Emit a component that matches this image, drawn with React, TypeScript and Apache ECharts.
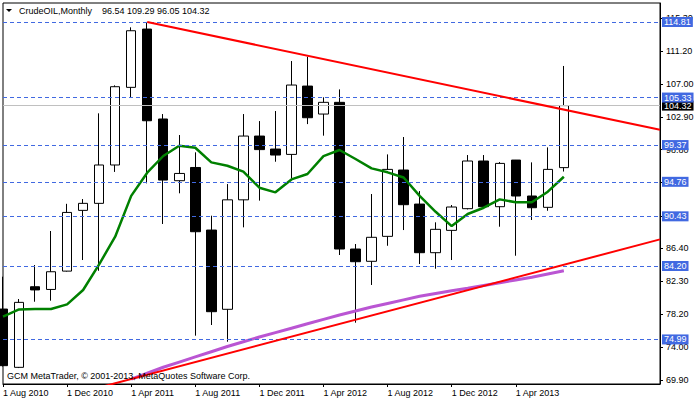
import React, { useEffect, useRef } from "react";
import * as echarts from "echarts";

// ---- data (monthly CrudeOIL, Aug 2010 – Jul 2013) ----
const months = [
  "Aug 2010", "Sep 2010", "Oct 2010", "Nov 2010", "Dec 2010", "Jan 2011",
  "Feb 2011", "Mar 2011", "Apr 2011", "May 2011", "Jun 2011", "Jul 2011",
  "Aug 2011", "Sep 2011", "Oct 2011", "Nov 2011", "Dec 2011", "Jan 2012",
  "Feb 2012", "Mar 2012", "Apr 2012", "May 2012", "Jun 2012", "Jul 2012",
  "Aug 2012", "Sep 2012", "Oct 2012", "Nov 2012", "Dec 2012", "Jan 2013",
  "Feb 2013", "Mar 2013", "Apr 2013", "May 2013", "Jun 2013", "Jul 2013",
];
// empty slots to the right of the last bar (chart shift area)
const futureSlots = ["Aug 2013", "Sep 2013", "Oct 2013", "Nov 2013", "Dec 2013", "Jan 2014"];

const opens = [
  78.8, 71.49, 81.6, 81.26, 83.56, 91.18, 92.06, 96.87, 106.61, 113.92, 102.64, 94.9,
  96.56, 88.71, 78.77, 92.5, 100.5, 98.87, 98.2, 106.77, 103.26, 104.73, 86.33, 84.79,
  87.92, 96.24, 91.97, 85.87, 88.67, 91.39, 97.37, 91.64, 97.49, 92.98, 91.56, 96.54,
];
const highs = [
  82.86, 80.06, 84.32, 88.59, 92.0, 92.6, 103.35, 106.86, 114.14, 114.81, 103.26, 100.63,
  98.46, 90.51, 94.48, 103.26, 102.38, 103.64, 109.91, 110.45, 105.36, 106.35, 86.96, 93.23,
  98.2, 100.38, 93.6, 89.68, 91.85, 98.12, 98.12, 97.24, 97.5, 97.2, 99.08, 109.29,
];
const lows = [
  71.6, 71.4, 79.72, 79.85, 83.5, 84.95, 83.6, 96.0, 105.27, 94.57, 89.47, 93.32,
  75.46, 76.8, 74.7, 89.05, 92.4, 97.28, 95.2, 102.0, 100.55, 85.58, 77.09, 81.82,
  86.74, 88.71, 84.45, 83.86, 84.95, 91.3, 91.5, 89.13, 85.49, 89.97, 91.13, 96.05,
];
const closes = [
  71.7, 79.64, 81.2, 83.48, 90.92, 92.06, 96.87, 106.69, 113.71, 102.42, 94.98, 95.81,
  88.5, 78.47, 92.5, 100.5, 98.8, 98.12, 106.9, 102.8, 104.73, 86.33, 84.74, 87.8,
  96.32, 91.89, 85.87, 88.8, 91.6, 97.37, 91.64, 97.07, 92.98, 91.51, 96.32, 104.32,
];
// green moving average
const maFast = [
  77.84, 78.75, 78.8, 78.8, 79.39, 81.19, 84.41, 87.88, 93.0, 95.9, 98.0, 99.28,
  99.03, 97.2, 96.78, 96.03, 94.02, 93.44, 95.06, 95.74, 97.99, 98.75, 97.62, 96.45,
  95.95, 95.3, 93.0, 91.0, 89.21, 90.72, 91.51, 92.56, 92.19, 92.19, 93.52, 95.4,
];
// purple moving average
const maSlow = [
  null, null, null, null, null, null, null, null, 70.0, 70.75, 71.5, 72.15,
  72.8, 73.45, 74.1, 74.7, 75.3, 75.85, 76.4, 76.95, 77.5, 78.05, 78.55, 79.05,
  79.5, 79.95, 80.4, 80.75, 81.1, 81.4, 81.75, 82.1, 82.45, 82.8, 83.2, 83.6,
];
// trend lines: [bar index, price]
const upperTrend = [[9, 114.81], [41, 101.28]];
const lowerTrend = [[0, 65.78], [41, 87.54]];
// horizontal levels
const levels = [114.81, 105.33, 99.37, 94.76, 90.43, 84.2, 74.99];
const lastPrice = 104.32;
// price scale: tick marks and the labels that are not fully covered by level tags
const yTickMarks = [69.9, 74.0, 78.2, 82.3, 86.4, 90.5, 94.7, 98.8, 102.9, 107.0, 111.2, 115.3];
const yTickLabels = [69.9, 74.0, 78.2, 82.3, 86.4, 98.8, 102.9, 107.0, 111.2, 115.3];

const headerName = "CrudeOIL,Monthly";
const headerOHLC = [96.54, 109.29, 96.05, 104.32];
const credit = "GCM MetaTrader, \u00a9 2001-2013, MetaQuotes Software Corp.";

const FONT = "'Liberation Sans', Arial, sans-serif";
const LEVEL_BLUE = "#4169E1";

export default function App() {
  const ref = useRef<HTMLDivElement>(null);

  useEffect(() => {
    if (!ref.current) return;
    const chart = echarts.init(ref.current, null, { renderer: "svg" });
    const cats = [...months, ...futureSlots];
    const candles = months.map((_, i) => [opens[i], closes[i], lows[i], highs[i]]);
    const showIdx = (i: number) => i % 4 === 0 && i < months.length;

    const levelItems: any[] = [
      {
        yAxis: lastPrice,
        lineStyle: { color: "#c0c0c0", type: "solid", width: 1 },
        label: { backgroundColor: "#000", color: "#fff" },
      },
      ...levels.map((v) => ({
        yAxis: v,
        lineStyle: { color: LEVEL_BLUE, type: [4, 3], width: 1 },
        label: { backgroundColor: LEVEL_BLUE, color: "#fff" },
      })),
    ];

    chart.setOption({
      animation: false,
      backgroundColor: "#fff",
      grid: {
        left: 3,
        top: 3,
        width: 657,
        height: 381,
        show: true,
        borderColor: "#000",
        borderWidth: 1,
        backgroundColor: "#fff",
      },
      xAxis: {
        type: "category",
        data: cats,
        boundaryGap: false,
        axisLine: { show: true, lineStyle: { color: "#000", width: 1 } },
        axisTick: { show: true, interval: (i: number) => showIdx(i), length: 3, lineStyle: { color: "#000" } },
        axisLabel: {
          interval: (i: number) => showIdx(i),
          formatter: (v: string) => "1 " + v,
          align: "left",
          margin: 4,
          color: "#000",
          fontSize: 9,
          fontFamily: FONT,
        },
        splitLine: { show: false },
      },
      yAxis: {
        type: "value",
        position: "right",
        min: 69.4,
        max: 117.19,
        axisLine: { show: true, lineStyle: { color: "#000", width: 1 } },
        axisTick: { show: true, length: 3, customValues: yTickMarks, lineStyle: { color: "#000" } },
        axisLabel: {
          customValues: yTickLabels,
          formatter: (v: number) => v.toFixed(2),
          margin: 6,
          color: "#000",
          fontSize: 9,
          fontFamily: FONT,
        },
        splitLine: { show: false },
      },
      graphic: [
        { type: "polygon", shape: { points: [[6, 9], [12, 9], [9, 12]] }, style: { fill: "#000" } },
        {
          type: "text",
          x: 19,
          y: 11,
          style: { text: headerName, font: `9px ${FONT}`, fill: "#000", verticalAlign: "middle" },
        },
        {
          type: "text",
          x: 102,
          y: 11,
          style: {
            text: headerOHLC.map((v) => v.toFixed(2)).join(" "),
            font: `9px ${FONT}`,
            fill: "#000",
            verticalAlign: "middle",
          },
        },
        {
          type: "text",
          x: 7,
          y: 376,
          z: 100,
          style: { text: credit, font: `9px ${FONT}`, fill: "#000", verticalAlign: "middle" },
        },
      ],
      series: [
        {
          type: "line",
          data: [],
          clip: false,
          silent: true,
          z: 1,
          markLine: {
            silent: true,
            symbol: ["none", "none"],
            animation: false,
            data: levelItems,
            label: {
              show: true,
              position: "end",
              distance: 2,
              formatter: (p: any) => Number(p.value).toFixed(2),
              fontSize: 9,
              fontFamily: FONT,
              lineHeight: 10,
              padding: [0, 2, 0, 2],
            },
          },
        },
        {
          type: "candlestick",
          data: candles,
          barWidth: 10,
          clip: true,
          z: 3,
          itemStyle: {
            color: "#fff",
            color0: "#000",
            borderColor: "#000",
            borderColor0: "#000",
            borderColorDoji: "#000",
            borderWidth: 1,
          },
        },
        {
          type: "line",
          data: maFast,
          symbol: "none",
          z: 4,
          lineStyle: { color: "#008000", width: 2.5 },
        },
        {
          type: "line",
          data: maSlow,
          symbol: "none",
          z: 4,
          lineStyle: { color: "#BA55D3", width: 3 },
        },
        {
          type: "line",
          data: upperTrend,
          symbol: "none",
          z: 5,
          clip: true,
          lineStyle: { color: "#ff0000", width: 2 },
        },
        {
          type: "line",
          data: lowerTrend,
          symbol: "none",
          z: 5,
          clip: true,
          lineStyle: { color: "#ff0000", width: 2 },
        },
      ],
    });
    return () => chart.dispose();
  }, []);

  return (
    <div
      ref={ref}
      style={{ position: "fixed", left: 0, top: 0, width: 700, height: 402, background: "#fff" }}
    />
  );
}
